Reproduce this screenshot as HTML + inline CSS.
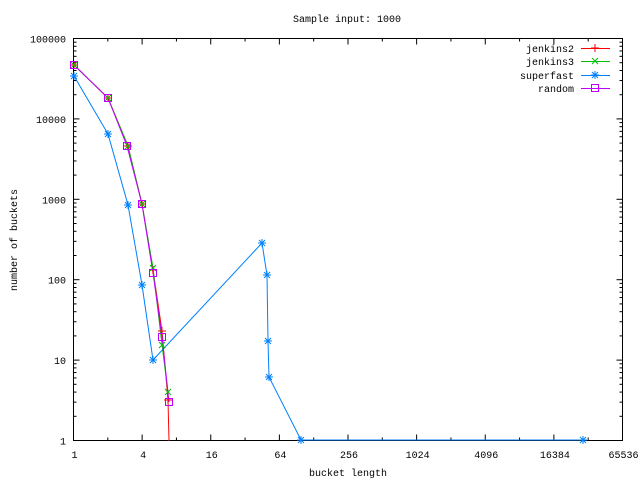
<!DOCTYPE html>
<html><head><style>body{margin:0;background:#fff}svg{display:block}text{font-family:"Liberation Mono","DejaVu Sans Mono",monospace;font-size:10px;fill:#000}</style></head>
<body>
<svg id="s" width="640" height="480" xmlns="http://www.w3.org/2000/svg">
<rect x="73.5" y="38.5" width="549" height="402" fill="none" stroke="#000" stroke-width="1"/>
<text x="347" y="22" text-anchor="middle">Sample input: 1000</text>
<text x="348" y="476" text-anchor="middle">bucket length</text>
<text transform="translate(17,240) rotate(-90)" text-anchor="middle">number of buckets</text>
<g id="ticks" stroke="#000" stroke-width="1"></g>
<g id="labels"></g>
<g fill="none" stroke-width="1">
<polyline stroke="#ff0000" points="74,65 108,98 128,146 142,204 153,270 162,331 168,400 169,441"/>
<polyline stroke="#00c000" points="74,65 108,98 128,146 142,204 153,268 162,345 168,392"/>
<polyline stroke="#0080ff" points="74,76 108,134 128,205 142,285 153,360 262,243 267,275 268,341 269,377 301,440 583,440"/>
<polyline stroke="#c000ff" points="74,65 108,98 127,146 142,204 153,273 162,337 169,402"/>
</g>
<g id="pts"></g>
<g>
<text x="574" y="52" text-anchor="end">jenkins2</text>
<text x="574" y="65" text-anchor="end">jenkins3</text>
<text x="574" y="79" text-anchor="end">superfast</text>
<text x="574" y="92" text-anchor="end">random</text>
<line x1="581" y1="48.5" x2="610" y2="48.5" stroke="#ff0000"/>
<line x1="581" y1="61.5" x2="610" y2="61.5" stroke="#00c000"/>
<line x1="581" y1="75.5" x2="610" y2="75.5" stroke="#0080ff"/>
<line x1="581" y1="88.5" x2="610" y2="88.5" stroke="#c000ff"/>
</g>
</svg>
<script>
var NS="http://www.w3.org/2000/svg";
function el(p,t,a,txt){var e=document.createElementNS(NS,t);for(var k in a)e.setAttribute(k,a[k]);if(txt)e.textContent=txt;document.getElementById(p).appendChild(e);}
var x0=73.5,x1=622.5,y0=440.5,y1=38.5;
var xl=["1","4","16","64","256","1024","4096","16384","65536"];
for(var i=0;i<=16;i++){var x=x0+i*(x1-x0)/16;var L=i%2?3:6;
el("ticks","line",{x1:x,y1:y0,x2:x,y2:y0-L});el("ticks","line",{x1:x,y1:y1,x2:x,y2:y1+L});
if(i%2==0)el("labels","text",{x:x+1,y:458,"text-anchor":"middle"},xl[i/2]);}
var yl=["1","10","100","1000","10000","100000"];var dec=(y0-y1)/5;
for(var d=0;d<=5;d++){for(var m=1;m<10;m++){if(d==5&&m>1)break;var y=y0-(d+Math.log10(m))*dec;var L=m==1?6:3;
el("ticks","line",{x1:x0,y1:y,x2:x0+L,y2:y});el("ticks","line",{x1:x1,y1:y,x2:x1-L,y2:y});}
el("labels","text",{x:66,y:y0-d*dec+4,"text-anchor":"end"},yl[d]);}
function plus(x,y,c){el("pts","path",{d:"M"+(x-4)+" "+y+"h8M"+x+" "+(y-4)+"v8",stroke:c,fill:"none"});}
function cross(x,y,c){el("pts","path",{d:"M"+(x-3)+" "+(y-3)+"l6 6M"+(x-3)+" "+(y+3)+"l6 -6",stroke:c,fill:"none"});}
function star(x,y,c){plus(x,y,c);cross(x,y,c);}
function sq(x,y,c){el("pts","rect",{x:x-3.5,y:y-3.5,width:7,height:7,stroke:c,fill:"none"});}
[[74,65],[108,98],[128,146],[142,204],[153,270],[162,331],[168,400],[595,48]].forEach(function(p){plus(p[0],p[1],"#ff0000")});
[[74,65],[108,98],[128,146],[142,204],[153,268],[162,345],[168,392],[595,61]].forEach(function(p){cross(p[0],p[1],"#00c000")});
[[74,76],[108,134],[128,205],[142,285],[153,360],[262,243],[267,275],[268,341],[269,377],[301,440],[583,440],[595,75]].forEach(function(p){star(p[0],p[1],"#0080ff")});
[[74,65],[108,98],[127,146],[142,204],[153,273],[162,337],[169,402],[595,88]].forEach(function(p){sq(p[0],p[1],"#c000ff")});
</script>
</body></html>
